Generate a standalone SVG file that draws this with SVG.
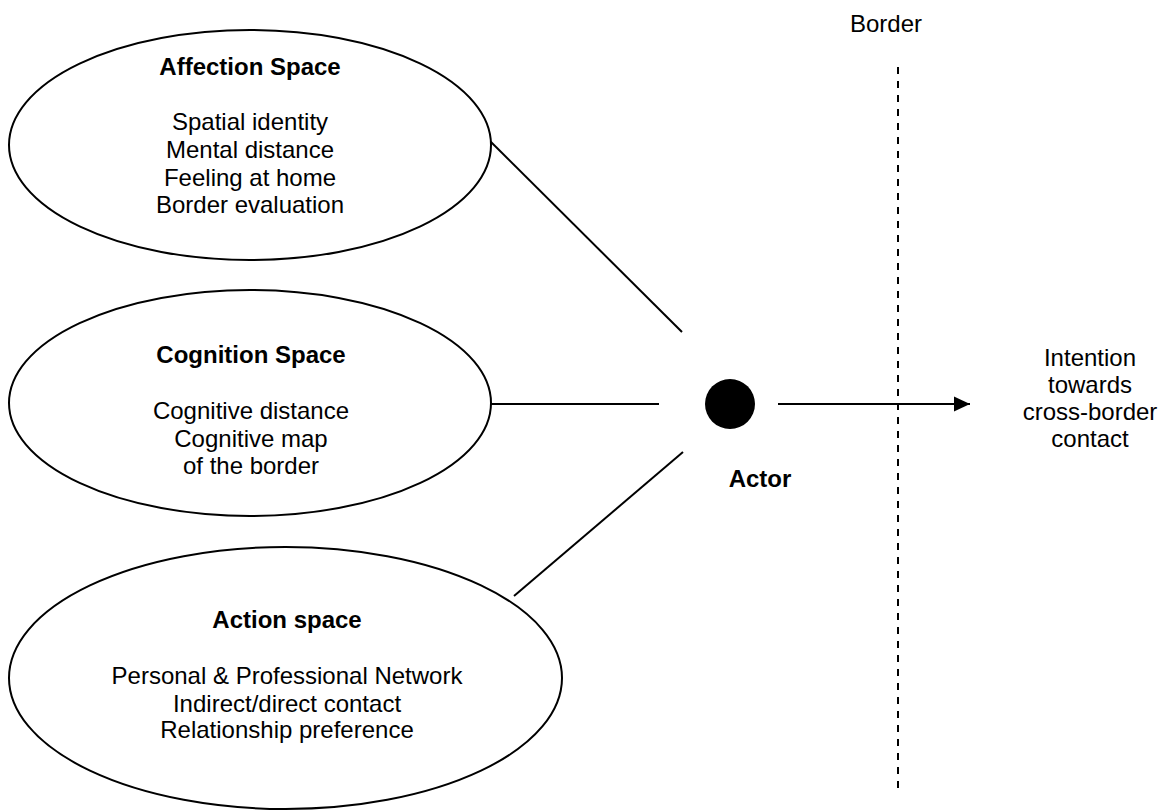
<svg xmlns="http://www.w3.org/2000/svg" width="1167" height="810" viewBox="0 0 1167 810">
<defs>
<style>
.ell{fill:#fff;stroke:#000;stroke-width:2}
.t{font-family:"Liberation Sans",Arial,sans-serif;font-size:24px;fill:#000;text-anchor:middle}
.b{font-weight:bold}
.ln{stroke:#000;stroke-width:2;fill:none}
</style>
<marker id="ah" viewBox="0 0 16 16" refX="16" refY="8" markerWidth="16" markerHeight="16" markerUnits="userSpaceOnUse" orient="auto">
<path d="M0,0.5 L16,8 L0,15.5 z" fill="#000"/>
</marker>
</defs>
<rect width="1167" height="810" fill="#fff"/>
<g id="connectors">
<line class="ln" x1="490" y1="141" x2="682" y2="332"/>
<line class="ln" x1="491" y1="404" x2="659" y2="404"/>
<line class="ln" x1="514" y1="596" x2="683" y2="452"/>
<line class="ln" x1="778" y1="404" x2="970" y2="404" marker-end="url(#ah)"/>
</g>
<g id="border">
<line x1="898" y1="67" x2="898" y2="790" stroke="#000" stroke-width="2" stroke-dasharray="7,7"/>
<text class="t" x="886" y="32">Border</text>
</g>
<g id="affection">
<ellipse class="ell" cx="250" cy="145" rx="241" ry="115"/>
<text class="t b" x="250" y="75">Affection Space</text>
<text class="t" x="250" y="130">Spatial identity</text>
<text class="t" x="250" y="158">Mental distance</text>
<text class="t" x="250" y="186">Feeling at home</text>
<text class="t" x="250" y="213">Border evaluation</text>
</g>
<g id="cognition">
<ellipse class="ell" cx="250" cy="403" rx="241" ry="113"/>
<text class="t b" x="251" y="363">Cognition Space</text>
<text class="t" x="251" y="419">Cognitive distance</text>
<text class="t" x="251" y="447">Cognitive map</text>
<text class="t" x="251" y="474">of the border</text>
</g>
<g id="action">
<ellipse class="ell" cx="285.5" cy="678" rx="276.5" ry="131"/>
<text class="t b" x="287" y="628">Action space</text>
<text class="t" x="287" y="684">Personal &amp; Professional Network</text>
<text class="t" x="287" y="712">Indirect/direct contact</text>
<text class="t" x="287" y="738">Relationship preference</text>
</g>
<g id="actor">
<circle cx="730" cy="404" r="25" fill="#000"/>
<text class="t b" x="760" y="487">Actor</text>
</g>
<g id="intention">
<text class="t" x="1090" y="366">Intention</text>
<text class="t" x="1090" y="393">towards</text>
<text class="t" x="1090" y="420">cross-border</text>
<text class="t" x="1090" y="447">contact</text>
</g>
</svg>
